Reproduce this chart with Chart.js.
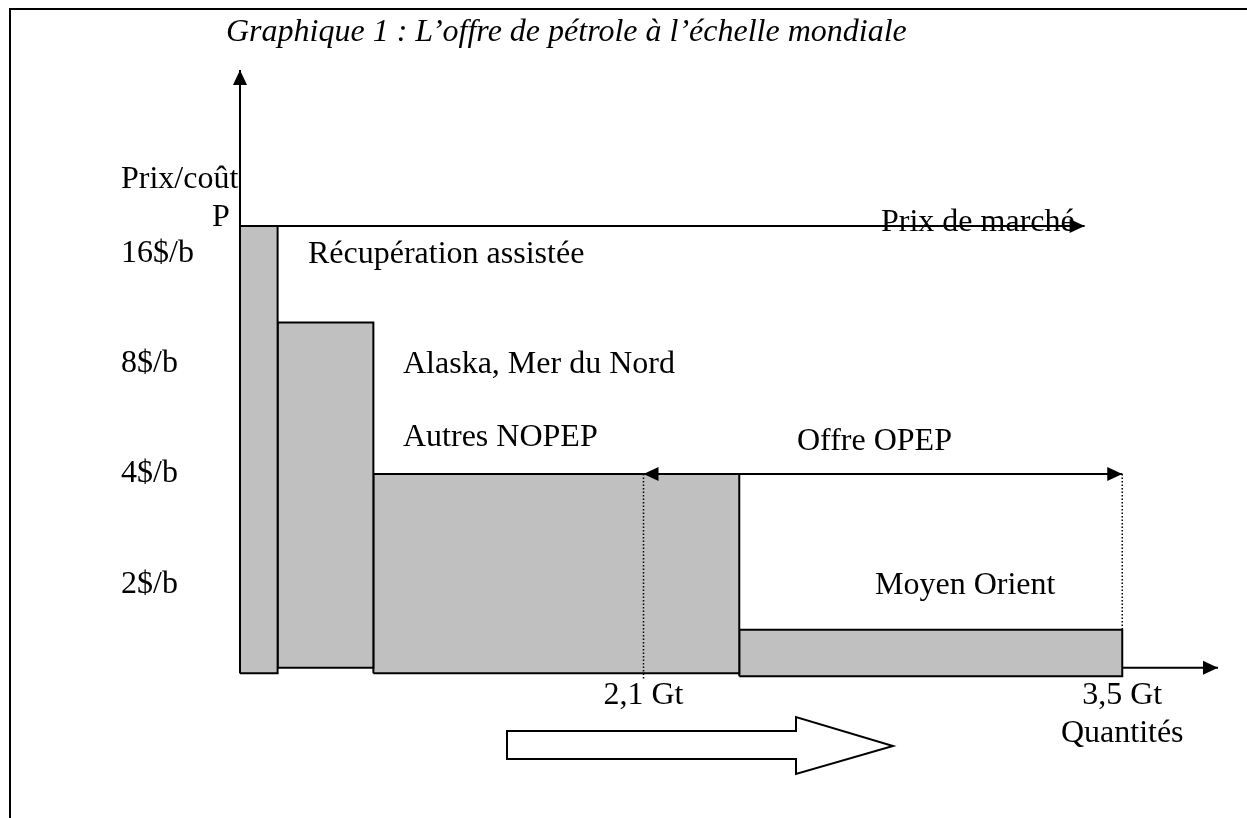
<!DOCTYPE html>
<html lang="fr">
<head>
<meta charset="utf-8">
<title>Graphique 1 : L’offre de pétrole à l’échelle mondiale</title>
<script src="https://cdn.jsdelivr.net/npm/chart.js@4/dist/chart.umd.min.js"></script>
<style>
  html, body { margin: 0; padding: 0; background: #fff; }
  canvas { display: block; }
</style>
</head>
<body>
<canvas id="offreChart" width="1247" height="818"></canvas>
<script>
// Quantités cumulées (Gt) aux bords des blocs d'offre
const quantityEdges = [0.92, 1.03, 1.31, 2.38, 3.5];
// Coût de chaque bloc ($/b) et bas du bloc
const blockCosts = [19.1, 10.4, 4, 1.5];
const blockBases = [1.14, 1.18, 1.14, 1.12];

const priceTicks = [2, 4, 8, 16];
const quantityTicks = [2.1, 3.5];
const marketPrice = 19.1;
const marketEnd = 3.39;
const opepRange = [2.1, 3.5];
const opepPrice = 4;
const xAxisLevel = 1.18;
const xMin = 0.92, xMax = 3.78;
const yMin = 1.1, yMax = 51;

const titleText = 'Graphique 1 : L’offre de pétrole à l’échelle mondiale';
const quantityLabel = 'Quantités';
// textes posés sur le dessin (x, y de la ligne de base, en pixels)
const notes = [
    ['Prix/coût', 121, 188],
    ['P', 212, 226],
    ['Récupération assistée', 308, 263],
    ['Alaska, Mer du Nord', 403, 373],
    ['Autres NOPEP', 403, 446],
    ['Offre OPEP', 797, 450],
    ['Prix de marché', 881, 231],
    ['Moyen Orient', 875, 594]
];

const serif = '"Liberation Serif", "Times New Roman", serif';
const fmt = v => String(v).replace('.', ',');

function line(points, extra) {
    return Object.assign({
        data: points,
        borderColor: '#000',
        borderWidth: 2,
        pointRadius: 0,
        pointHitRadius: 0,
        fill: false,
        clip: false
    }, extra);
}

// blocs : contour complet, rempli jusqu'à leur base
const blocks = blockCosts.map((cost, i) => {
    const x0 = quantityEdges[i], x1 = quantityEdges[i + 1], b = blockBases[i];
    return line([
        {x: x0, y: b}, {x: x0, y: cost}, {x: x1, y: cost},
        {x: x1, y: b}, {x: x0, y: b}, {x: x1, y: b}
    ], {
        backgroundColor: '#c0c0c0',
        fill: {value: b},
        borderJoinStyle: 'miter'
    });
});

const dotted = {borderWidth: 1.5, borderDash: [1.5, 2], borderColor: '#000'};

const datasets = [
    line([{x: xMin, y: blockBases[0]}, {x: xMin, y: yMax}], {arrow: 'end'}),
    line([{x: xMin, y: marketPrice}, {x: marketEnd, y: marketPrice}], {arrow: 'end'}),
    line([{x: opepRange[0], y: opepPrice}, {x: opepRange[1], y: opepPrice}], {arrow: 'both'}),
    line([{x: quantityEdges[4], y: xAxisLevel}, {x: xMax, y: xAxisLevel}], {arrow: 'end'}),
    line([{x: opepRange[0], y: opepPrice}, {x: opepRange[0], y: yMin}], dotted),
    line([{x: opepRange[1], y: opepPrice}, {x: opepRange[1], y: blockCosts[3]}], dotted)
].concat(blocks);

function drawHead(ctx, from, to) {
    const a = Math.atan2(to.y - from.y, to.x - from.x);
    ctx.save();
    ctx.translate(to.x, to.y);
    ctx.rotate(a);
    ctx.beginPath();
    ctx.moveTo(0, 0);
    ctx.lineTo(-15, -7);
    ctx.lineTo(-15, 7);
    ctx.closePath();
    ctx.fillStyle = '#000';
    ctx.fill();
    ctx.restore();
}

const decorations = {
    id: 'decorations',
    afterDatasetsDraw(chart) {
        const ctx = chart.ctx;
        chart.data.datasets.forEach((ds, i) => {
            if (!ds.arrow) return;
            const pts = chart.getDatasetMeta(i).data;
            const n = pts.length;
            drawHead(ctx, pts[n - 2], pts[n - 1]);
            if (ds.arrow === 'both') drawHead(ctx, pts[1], pts[0]);
        });
    },
    afterDraw(chart) {
        const ctx = chart.ctx;
        ctx.save();
        // cadre
        ctx.strokeStyle = '#000';
        ctx.lineWidth = 2;
        ctx.beginPath();
        ctx.moveTo(10, 818);
        ctx.lineTo(10, 9);
        ctx.lineTo(1247, 9);
        ctx.stroke();

        ctx.fillStyle = '#000';
        ctx.textBaseline = 'alphabetic';
        ctx.textAlign = 'left';
        ctx.font = 'italic 32px ' + serif;
        ctx.fillText(titleText, 226, 41);

        ctx.font = '32px ' + serif;
        notes.forEach(([t, x, y]) => ctx.fillText(t, x, y));

        // grosse flèche creuse sous l'axe
        ctx.beginPath();
        ctx.moveTo(507, 731);
        ctx.lineTo(796, 731);
        ctx.lineTo(796, 717);
        ctx.lineTo(893, 746);
        ctx.lineTo(796, 774);
        ctx.lineTo(796, 759);
        ctx.lineTo(507, 759);
        ctx.closePath();
        ctx.fillStyle = '#fff';
        ctx.fill();
        ctx.lineWidth = 2;
        ctx.stroke();
        ctx.restore();
    }
};

const tickFont = {family: serif, size: 32};

new Chart(document.getElementById('offreChart'), {
    type: 'line',
    data: {datasets: datasets},
    options: {
        responsive: false,
        animation: false,
        events: [],
        layout: {padding: {left: 121, top: 70, right: 29, bottom: 0}},
        plugins: {
            legend: {display: false},
            tooltip: {enabled: false},
            title: {display: false}
        },
        scales: {
            x: {
                type: 'linear',
                min: xMin,
                max: xMax,
                bounds: 'data',
                grid: {display: false, drawTicks: false},
                border: {display: false},
                afterBuildTicks: s => { s.ticks = quantityTicks.map(v => ({value: v})); },
                afterFit: s => { s.height = 139; },
                ticks: {
                    maxRotation: 0,
                    autoSkip: false,
                    padding: -3,
                    color: '#000',
                    font: tickFont,
                    callback: v => {
                        const t = fmt(v) + ' Gt';
                        return v === quantityTicks[quantityTicks.length - 1] ? [t, quantityLabel] : t;
                    }
                }
            },
            y: {
                type: 'logarithmic',
                min: yMin,
                max: yMax,
                bounds: 'data',
                grid: {display: false, drawTicks: false},
                border: {display: false},
                afterBuildTicks: s => { s.ticks = priceTicks.map(v => ({value: v})); },
                afterFit: s => { s.width = 119; },
                ticks: {
                    crossAlign: 'far',
                    autoSkip: false,
                    color: '#000',
                    font: tickFont,
                    callback: v => v + '$/b'
                }
            }
        }
    },
    plugins: [decorations]
});
</script>
</body>
</html>
